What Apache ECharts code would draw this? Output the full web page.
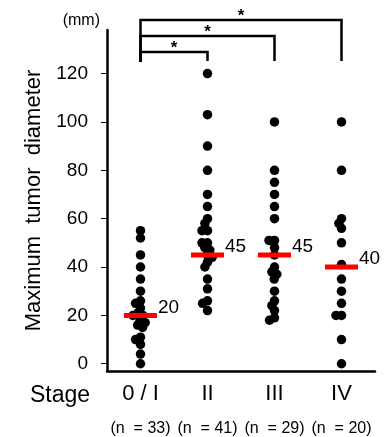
<!DOCTYPE html>
<html>
<head>
<meta charset="utf-8">
<script src="https://cdn.jsdelivr.net/npm/echarts@6/dist/echarts.min.js"></script>
<style>
html, body { margin: 0; padding: 0; background: #fff; }
#chart { width: 391px; height: 437px; }
</style>
</head>
<body>
<div id="chart"></div>
<script>
// data
var categories = ['0 / I', 'II', 'III', 'IV'];
var nLabels = ['(n  = 33)', '(n  = 41)', '(n  = 29)', '(n  = 20)'];
var stage0 = [55, 52, 45, 40, 35, 30, 26, 25, 23, 21, 20, 20, 18, 17, 16, 15, 11, 10, 8, 4, 0];
var stage2 = [120, 103, 90, 80, 70, 65, 60, 58, 55, 55, 50, 50, 48, 47, 45, 44, 42, 40, 35, 31, 26, 25, 22];
var stage3 = [100, 80, 75, 70, 65, 60, 51, 51, 48, 45, 40, 38, 37, 35, 30, 26, 24, 22, 19, 18];
var stage4 = [100, 80, 60, 58, 56, 50, 41, 35, 30, 25, 20, 20, 10, 0];
var medians = [20, 45, 45, 40];
var yTicks = [0, 20, 40, 60, 80, 100, 120];
var comparisons = [[0, 1], [0, 2], [0, 3]];

var font = '"Liberation Sans", Arial, Helvetica, sans-serif';

function toPoints(values, idx) {
  return values.map(function (v) { return [idx, v]; });
}
var dots = [].concat(toPoints(stage0, 0), toPoints(stage2, 1), toPoints(stage3, 2), toPoints(stage4, 3));

var chart = echarts.init(document.getElementById('chart'));

var option = {
  animation: false,
  grid: { left: 107, right: 16, top: 30, bottom: 65 },
  xAxis: [{
    type: 'category',
    data: categories,
    jitter: 18,
    jitterOverlap: false,
    jitterMargin: -4,
    axisLine: { onZero: false, lineStyle: { color: '#000', width: 2.5 } },
    axisTick: { show: false },
    axisLabel: {
      interval: 0,
      margin: 7,
      color: '#000',
      formatter: function (v, i) { return '{a|' + v + '}\n{b|' + nLabels[i] + '}'; },
      rich: {
        a: { fontSize: 22, fontFamily: font, lineHeight: 32, color: '#000' },
        b: { fontSize: 16, fontFamily: font, lineHeight: 38, color: '#000' }
      }
    }
  }, {
    type: 'category',
    data: categories,
    show: false
  }],
  yAxis: {
    type: 'value',
    min: -3,
    max: 138,
    name: 'Maximum  tumor  diameter',
    nameLocation: 'middle',
    nameGap: 47,
    nameTextStyle: { fontSize: 22, fontFamily: font, color: '#000' },
    axisLine: { show: true, lineStyle: { color: '#000', width: 2.5 } },
    axisTick: { show: true, length: 6, customValues: yTicks, lineStyle: { color: '#000', width: 1 } },
    axisLabel: { customValues: yTicks, margin: 19, fontSize: 19, fontFamily: font, color: '#000' },
    splitLine: { show: false }
  },
  series: [{
    type: 'scatter',
    xAxisIndex: 0,
    data: dots,
    symbolSize: 9.5,
    itemStyle: { color: '#000', opacity: 1 },
    silent: true,
    z: 2
  }, {
    type: 'scatter',
    xAxisIndex: 1,
    data: medians.map(function (m, i) { return [i, m]; }),
    symbol: 'rect',
    symbolSize: [33, 5],
    itemStyle: { color: '#ff0000', opacity: 1 },
    label: {
      show: true,
      position: 'right',
      distance: 1,
      offset: [0, -8],
      formatter: function (p) { return p.value[1]; },
      fontSize: 19,
      fontFamily: font,
      color: '#000'
    },
    silent: true,
    z: 3
  }]
};
chart.setOption(option);

// significance brackets and side texts
var els = [
  { type: 'text', x: 30, y: 396, style: { text: 'Stage', font: '23px ' + font, fill: '#000', verticalAlign: 'middle' } },
  { type: 'text', x: 100, y: 21, style: { text: '(mm)', font: '16px ' + font, fill: '#000', align: 'right', verticalAlign: 'middle' } }
];
comparisons.forEach(function (c, k) {
  var x1 = chart.convertToPixel({ xAxisIndex: 0 }, c[0]);
  var x2 = chart.convertToPixel({ xAxisIndex: 0 }, c[1]);
  var y = 52 - k * 16;
  els.push({
    type: 'polyline',
    shape: { points: [[x1, 62], [x1, y], [x2, y], [x2, 61]] },
    style: { stroke: '#000', lineWidth: 2.5, fill: 'none' }
  });
  els.push({
    type: 'text', x: (x1 + x2) / 2, y: y - 4,
    style: { text: '*', font: 'bold 17px ' + font, fill: '#000', align: 'center', verticalAlign: 'middle' }
  });
});
chart.setOption({ graphic: els });
</script>
</body>
</html>
